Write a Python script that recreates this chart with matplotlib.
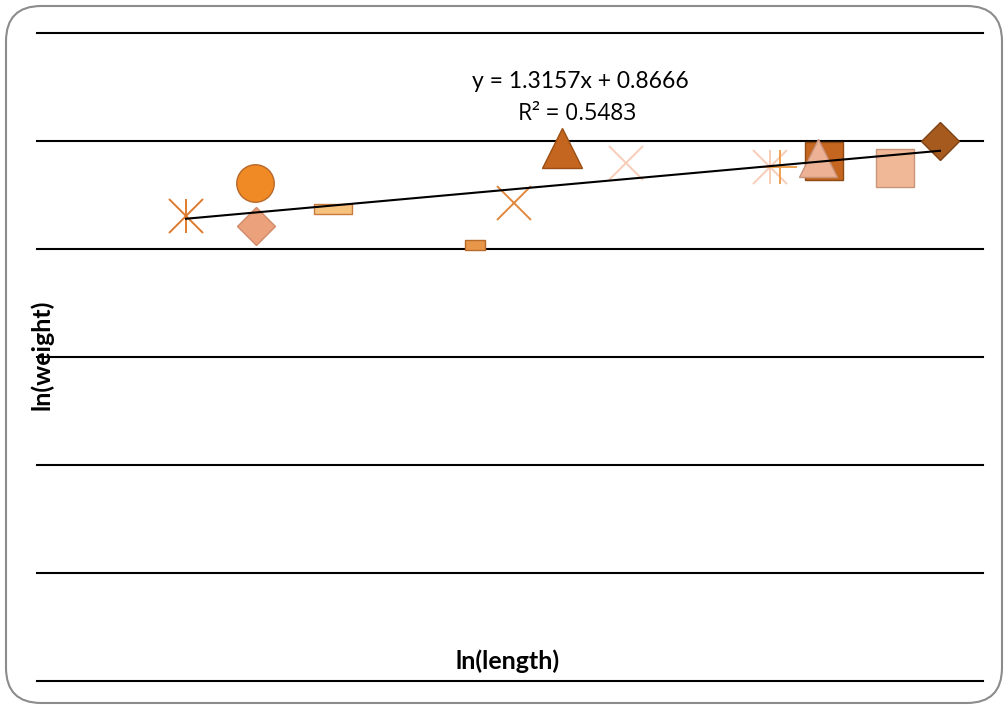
import matplotlib
matplotlib.use("Agg")
import matplotlib.pyplot as plt
from matplotlib.patches import FancyBboxPatch
from matplotlib.path import Path
import numpy as np

plt.rcParams['font.family'] = ['Lato', 'DejaVu Sans']

# data: ln(length), ln(weight) per series
ln_length = [2.5945, 2.6383, 2.6389, 2.6877, 2.7778, 2.8025, 2.8330, 2.8736,
             2.9649, 2.9712, 2.9991, 2.9953, 3.0442, 3.0727]
ln_weight = [4.305, 4.611, 4.213, 4.370, 4.037, 4.426, 4.935, 4.796,
             4.759, 4.759, 4.815, 4.847, 4.750, 5.000]
markers = ['asterisk', 'o', 'D', 'dash_wide', 'dash_small', 'x', '^', 'x',
           'asterisk', '+', 's', '^', 's', 'D']
colors = ['#E07B2E', '#F08A24', '#EBA27C', '#F6C27E', '#E8974A', '#E0883E',
          '#C4661F', '#F8CDB8', '#F8CDB8', '#F0A050', '#C4661F', '#EDB295',
          '#F0B896', '#A65A1E']
edges = ['#E07B2E', '#B8682A', '#D08A66', '#C97A3E', '#B86A2A', '#E0883E',
         '#9A4E16', '#F8CDB8', '#F8CDB8', '#F0A050', '#8E4A14', '#C9927A',
         '#C9957A', '#7E4214']
sizes = [25, 27, 19, 27, 15, 25, 29, 25, 25, 25, 27, 28, 27, 19]

slope, intercept = 1.3157, 0.8666

dash_wide = Path([(-1, -0.29), (1, -0.29), (1, 0.29), (-1, 0.29), (-1, -0.29)],
                 [1, 2, 2, 2, 79])
dash_small = Path([(-1, -0.52), (1, -0.52), (1, 0.52), (-1, 0.52), (-1, -0.52)],
                  [1, 2, 2, 2, 79])

fig = plt.figure(figsize=(10.08, 7.08), dpi=100)
ax = fig.add_axes([37/1008, 1-681/708, (983-37)/1008, (681-33)/708])
ax.set_xlim(2.5, 3.1)
ax.set_ylim(0, 6)
ax.axis('off')

for g in range(7):
    ax.axhline(g, color='black', lw=1.5, clip_on=False, zorder=1)

for x, y, m, c, e, s in zip(ln_length, ln_weight, markers, colors, edges, sizes):
    if m == 'asterisk':
        ax.plot(x, y, marker='x', ms=s, mew=1.4, color=c, zorder=3)
        ax.plot(x, y, marker='|', ms=s, mew=1.4, color=c, zorder=3)
    elif m in ('x', '+'):
        ax.plot(x, y, marker=m, ms=s, mew=1.4, color=c, zorder=3)
    else:
        mk = {'dash_wide': dash_wide, 'dash_small': dash_small}.get(m, m)
        ax.plot(x, y, marker=mk, ms=s, mfc=c, mec=e, mew=1.0,
                ls='none', zorder=3)

xs = np.array([min(ln_length), max(ln_length)])
ax.plot(xs, slope*xs + intercept, color='black', lw=1.5, zorder=5)

fig.text(580/1008, 1-81/708, 'y = 1.3157x + 0.8666', ha='center', va='center',
         fontsize=16.5)
fig.text(577/1008, 1-114/708, 'R² = 0.5483', ha='center', va='center',
         fontsize=16.5, family=['Open Sans', 'DejaVu Sans'])
fig.text(508/1008, 1-661/708, 'ln(length)', ha='center', va='center',
         fontsize=18, fontweight='bold')
fig.text(42/1008, 1-355/708, 'ln(weight)', ha='center', va='center',
         fontsize=18, fontweight='bold', rotation=90)

border = FancyBboxPatch((6/1008, 5/708), 996/1008, 697/708,
                        boxstyle='round,pad=0,rounding_size=0.035',
                        transform=fig.transFigure, fill=False,
                        edgecolor='#8C8C8C', lw=1.5, mutation_aspect=1008/708)
fig.patches.append(border)

fig.savefig('out.png', dpi=100)
